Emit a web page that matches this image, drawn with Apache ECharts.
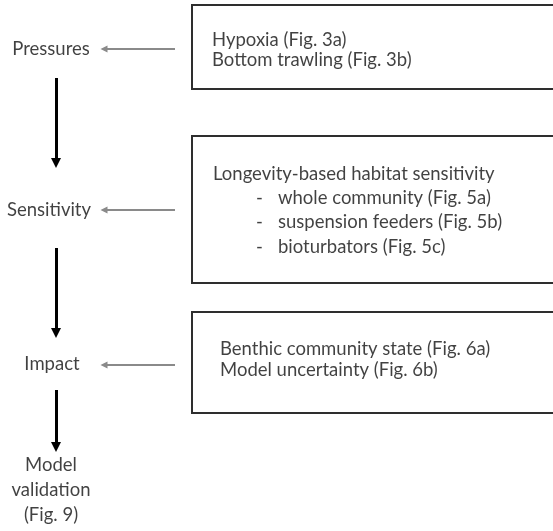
<!DOCTYPE html>
<html>
<head>
<meta charset="utf-8">
<script src="https://cdn.jsdelivr.net/npm/echarts@6/dist/echarts.min.js"></script>
<style>
  html, body { margin: 0; padding: 0; background: #fff; }
  #main { width: 553px; height: 531px; }
</style>
</head>
<body>
<div id="main"></div>
<script>
// stage labels (left column) and the evidence listed in each box
var stages = ['Pressures', 'Sensitivity', 'Impact', 'Model', 'validation', '(Fig. 9)'];
var pressureLines = ['Hypoxia (Fig. 3a)', 'Bottom trawling (Fig. 3b)'];
var sensitivityTitle = ['Longevity-based habitat sensitivity'];
var sensitivityItems = ['whole community (Fig. 5a)', 'suspension feeders (Fig. 5b)', 'bioturbators (Fig. 5c)'];
var impactLines = ['Benthic community state (Fig. 6a)', 'Model uncertainty (Fig. 6b)'];

// layout, in pixel units of the hidden axes
var stageX = [51, 49, 52, 51, 51, 51];
var stageY = [49, 210, 364, 465, 490, 515];
var boxes = [[192, 5, 560, 89], [192, 136, 560, 283], [192, 312, 560, 413]];
var flowArrows = [[[56, 78], [56, 163]], [[56, 248], [56, 333]], [[56, 390], [56, 447]]];
var feedArrows = [[[175, 49], [104, 49]], [[175, 210], [104, 210]], [[175, 365], [104, 365]]];

var font = 'Lato';
var fs = 18.5;
var textColor = '#111';

function textItems(lines, x, y0, step) {
  return lines.map(function (t, i) {
    return { name: t, value: [x, y0 + i * step] };
  });
}

var leftText = stages.map(function (t, i) {
  return { name: t, value: [stageX[i], stageY[i]] };
});
var boxText = []
  .concat(textItems(pressureLines, 212, 40, 20))
  .concat(textItems(sensitivityTitle, 213, 174, 24))
  .concat(textItems(sensitivityItems, 278, 198, 24.5))
  .concat(textItems(impactLines, 220, 349, 21));
var dashes = textItems(['-', '-', '-'], 256, 198, 24.5);

var chart = echarts.init(document.getElementById('main'));

var option = {
  animation: false,
  grid: { left: 0, right: 0, top: 0, bottom: 0 },
  xAxis: { type: 'value', min: 0, max: 553, show: false },
  yAxis: { type: 'value', min: 0, max: 531, inverse: true, show: false },
  series: [
    {
      type: 'custom',
      clip: true,
      data: boxes,
      renderItem: function (params, api) {
        var p1 = api.coord([api.value(0), api.value(1)]);
        var p2 = api.coord([api.value(2), api.value(3)]);
        return {
          type: 'rect',
          shape: { x: p1[0], y: p1[1], width: p2[0] - p1[0], height: p2[1] - p1[1] },
          style: { fill: 'none', stroke: '#2e2e2e', lineWidth: 2 }
        };
      }
    },
    {
      type: 'lines',
      coordinateSystem: 'cartesian2d',
      symbol: ['none', 'triangle'],
      symbolSize: [10, 10],
      lineStyle: { color: '#000', width: 3, opacity: 1 },
      data: flowArrows.map(function (c) { return { coords: c }; })
    },
    {
      type: 'lines',
      coordinateSystem: 'cartesian2d',
      symbol: ['none', 'triangle'],
      symbolSize: [8, 7],
      lineStyle: { color: '#8a8a8a', width: 2, opacity: 1 },
      data: feedArrows.map(function (c) { return { coords: c }; })
    },
    {
      type: 'scatter',
      symbolSize: 0,
      data: leftText,
      label: {
        show: true, position: 'inside', formatter: '{b}',
        fontFamily: font, fontSize: fs, color: textColor, align: 'center', verticalAlign: 'middle'
      }
    },
    {
      type: 'scatter',
      symbolSize: 0,
      data: boxText.concat(dashes),
      label: {
        show: true, position: 'inside', formatter: '{b}',
        fontFamily: font, fontSize: fs, color: textColor, align: 'left', verticalAlign: 'middle'
      }
    }
  ]
};

chart.setOption(option);
</script>
</body>
</html>
